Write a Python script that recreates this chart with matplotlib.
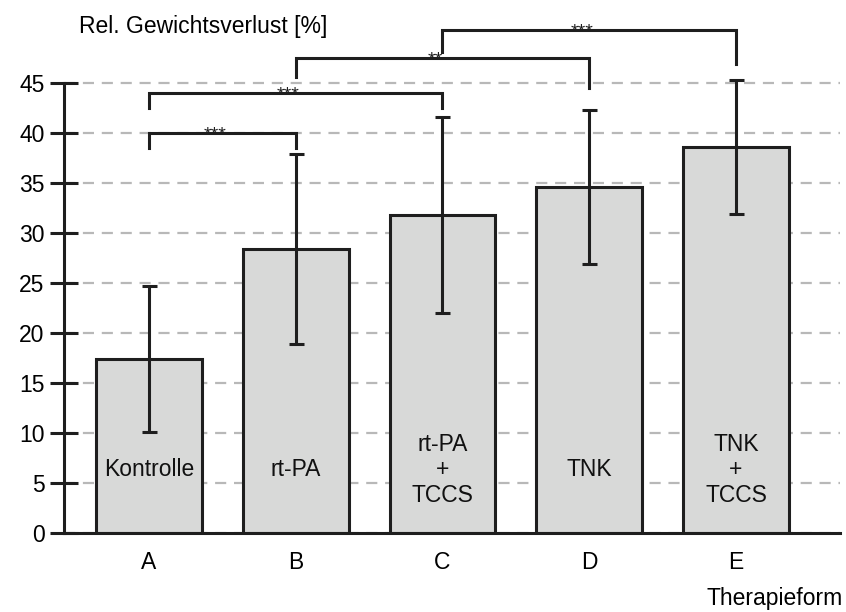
"""Relativer Gewichtsverlust je Therapieform als Balkendiagramm"""
import matplotlib.pyplot as plt

plt.rcParams["font.family"] = ["Liberation Sans", "DejaVu Sans"]

groups = ["A", "B", "C", "D", "E"]
bar_labels = ["Kontrolle", "rt-PA", "rt-PA\n+\nTCCS", "TNK", "TNK\n+\nTCCS"]
means = [17.4, 28.4, 31.8, 34.6, 38.6]
errors = [7.3, 9.5, 9.8, 7.7, 6.7]

# Signifikanz-Vergleiche: (links, rechts, Sterne)
pairs = [(0, 1), (0, 2), (1, 3), (2, 4)]
stars = ["***", "***", "**", "***"]

LINE = "#1e1e1e"
FS = 16.5

fig = plt.figure(figsize=(8.46, 6.12), dpi=100)
ax = fig.add_axes([64 / 846, 79 / 612, 776 / 846, 520 / 612])

x = list(range(len(groups)))
ax.bar(x, means, width=0.72, color="#d8d9d8", edgecolor=LINE,
       linewidth=2.2, zorder=2)
ax.errorbar(x, means, yerr=errors, fmt="none", ecolor=LINE,
            elinewidth=2.2, capsize=5.4, capthick=2.2, zorder=3)

for xi, lab in zip(x, bar_labels):
    ax.text(xi, 6.3, lab, ha="center", va="center", fontsize=FS,
            linespacing=1.15, color="#111111", zorder=4)

# Klammern mit Sternen
bracket_y = [40.0, 44.0, 47.5, 50.3]
leg_ends = [(38.5, 38.5), (42.5, 42.5), (45.6, 44.5), (48.1, 46.9)]
for (i, j), s, yb, (yl, yr) in zip(pairs, stars, bracket_y, leg_ends):
    ax.plot([i, i, j, j], [yl, yb, yb, yr], color=LINE, lw=2.2,
            solid_joinstyle="miter", clip_on=False, zorder=5)
    ax.annotate(s, xy=((i + j) / 2 - 0.05, yb), xytext=(0, -4.5),
                textcoords="offset points", ha="center", va="baseline",
                fontsize=14, color=LINE, zorder=6, annotation_clip=False)

ax.set_xlim(-0.579, 4.709)
ax.set_ylim(0, 52)
ax.set_yticks(range(0, 46, 5))
ax.set_xticks(x)
ax.set_xticklabels(groups)

ax.yaxis.grid(True, color="#b8b8b8", linestyle=(0, (5, 3.5)), linewidth=1.6)
ax.set_axisbelow(True)

for side in ["top", "right"]:
    ax.spines[side].set_visible(False)
ax.spines["left"].set_bounds(0, 45)
ax.spines["left"].set_linewidth(2.2)
ax.spines["bottom"].set_linewidth(2.2)
ax.spines["left"].set_color(LINE)
ax.spines["bottom"].set_color(LINE)

ax.tick_params(axis="y", direction="inout", length=20, width=2.2,
               color=LINE, labelsize=FS, pad=4)
ax.tick_params(axis="x", length=0, labelsize=FS, pad=13)

fig.text(79 / 846, 1 - 27 / 612, "Rel. Gewichtsverlust [%]",
         ha="left", va="center", fontsize=FS)
fig.text(843 / 846, 1 - 598 / 612, "Therapieform",
         ha="right", va="center", fontsize=FS)

fig.savefig("out.png", dpi=100, facecolor="white")
